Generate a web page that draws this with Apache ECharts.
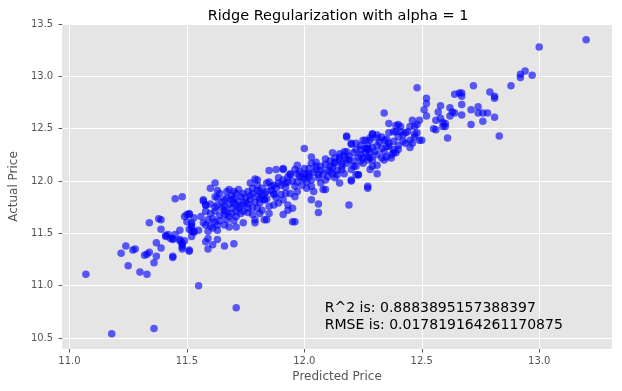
<!DOCTYPE html>
<html>
<head>
<meta charset="utf-8">
<script src="https://cdn.jsdelivr.net/npm/echarts@6/dist/echarts.min.js"></script>
<style>html,body{margin:0;padding:0;background:#fff}#c{width:622px;height:391px}</style>
</head>
<body>
<div id="c"></div>
<script>
const chartTitle = 'Ridge Regularization with alpha = 1';
const xAxisName = 'Predicted Price';
const yAxisName = 'Actual Price';
const xTicks = [11.0, 11.5, 12.0, 12.5, 13.0];
const yTicks = [10.5, 11.0, 11.5, 12.0, 12.5, 13.0, 13.5];
const statLines = ['R^2 is: 0.8883895157388397', 'RMSE is: 0.017819164261170875'];
const statAnchor = [12.1, 10.6];

// [predicted, actual]
const lowOutliers = [[11.07,11.11],[11.18,10.54],[11.36,10.59],[11.55,11.00],[11.71,10.79]];
const leftCluster = [
[11.24,11.38],[11.22,11.31],[11.25,11.19],[11.27,11.34],[11.28,11.35],[11.30,11.13],[11.33,11.11],[11.32,11.29],[11.33,11.30],[11.34,11.32],
[11.36,11.22],[11.37,11.28],[11.37,11.41],[11.39,11.36],[11.44,11.28],[11.44,11.27],[11.51,11.33],[11.41,11.48],[11.42,11.49],[11.45,11.49],
[11.44,11.45],[11.47,11.43],[11.48,11.41],[11.48,11.35],[11.47,11.53],[11.52,11.52],[11.53,11.51],[11.58,11.42],[11.45,11.83],[11.48,11.85],
[11.38,11.64],[11.39,11.63],[11.34,11.60],[11.39,11.54],[11.47,11.44],[11.49,11.43],[11.49,11.66],[11.50,11.68],[11.51,11.69],[11.53,11.65],
[11.50,11.61],[11.52,11.60],[11.52,11.56],[11.51,11.54],[11.53,11.52],[11.55,11.53],[11.48,11.39],[11.44,11.44],[11.48,11.37],[11.51,11.34],
[11.51,11.68],[11.52,11.58],[11.52,11.47],[11.41,11.47],[11.43,11.45]
];
const coreLow = [
[11.62,11.98],[11.60,11.93],[11.57,11.82],[11.58,11.77],[11.60,11.69],[11.62,11.85],[11.63,11.84],[11.63,11.77],[11.62,11.71],[11.61,11.64],
[11.59,11.63],[11.58,11.58],[11.59,11.52],[11.61,11.55],[11.63,11.58],[11.63,11.53],[11.59,11.45],[11.63,11.44],[11.61,11.39],[11.59,11.35],
[11.66,11.38],[11.70,11.40],[11.66,11.76],[11.66,11.68],[11.67,11.63],[11.68,11.56],[11.71,11.56],[11.68,11.92],[11.69,11.82],[11.71,11.77],
[11.71,11.71],[11.73,11.85],[11.74,11.88],[11.75,11.80],[11.74,11.71],[11.74,11.60],[11.76,11.74],[11.77,11.82],[11.78,11.68],[11.79,11.63],
[11.79,11.60],[11.77,11.98],[11.79,12.02],[11.80,11.96],[11.78,11.88],[11.80,11.85],[11.81,11.79],[11.81,11.69],[11.80,11.74],[11.83,11.82],
[11.83,11.88],[11.84,11.98],[11.85,12.10],[11.86,11.95],[11.85,11.76],[11.87,11.77],[11.83,11.63],[11.85,11.69],[11.87,11.88],[11.68,11.66],
[11.57,11.81],[11.58,11.77],[11.65,11.80],[11.67,11.84],[11.69,11.86],[11.70,11.79],[11.72,11.81],[11.73,11.76],[11.75,11.84],[11.76,11.78],
[11.78,11.75],[11.79,11.80],[11.82,11.86],[11.84,11.83],[11.64,11.67],[11.66,11.72],[11.69,11.74],[11.71,11.66],[11.62,11.75],[11.60,11.78],
[11.64,11.88],[11.70,11.90],[11.72,11.92],[11.76,11.90],[11.78,11.93],[11.82,11.93],
[11.66,11.82],[11.68,11.78],[11.70,11.83],[11.72,11.74],[11.74,11.78],[11.77,11.86],[11.71,11.88],[11.67,11.70],[11.65,11.74],[11.69,11.69],
[11.73,11.69],[11.76,11.70],[11.64,11.62],[11.66,11.58],[11.70,11.62],[11.62,11.61],[11.60,11.57],[11.57,11.60],[11.56,11.66],[11.58,11.71],
[11.63,11.91],[11.67,11.90],[11.81,11.90],[11.81,11.83]
];
const coreMid = [
[12.00,12.31],[12.03,12.23],[12.18,12.43],[12.20,12.35],[12.17,12.28],[12.18,12.21],[12.16,12.17],[12.24,12.34],[12.26,12.39],[12.29,12.45],
[12.27,12.31],[12.28,12.22],[12.28,12.11],[12.27,11.93],[12.23,12.06],[12.20,12.00],[12.19,11.77],[12.15,11.98],[12.13,12.17],[12.11,12.09],
[12.09,12.21],[12.09,12.01],[12.08,11.92],[12.09,11.92],[12.07,12.14],[12.06,12.06],[12.05,12.11],[12.03,12.01],[12.02,12.07],[12.01,11.99],
[12.03,11.95],[12.03,11.82],[12.06,11.78],[12.06,11.70],[12.01,12.06],[11.99,12.03],[11.97,11.99],[11.96,11.95],[11.97,12.07],[11.94,12.07],
[11.93,11.99],[11.92,11.98],[11.94,11.88],[11.96,11.85],[11.92,11.88],[11.91,11.82],[11.93,11.77],[11.95,11.74],[11.93,11.72],[11.91,11.68],
[11.89,11.79],[11.87,11.87],[11.87,11.96],[11.88,12.11],[11.91,12.11],[11.96,12.11],[11.85,11.99],[11.84,11.90],[11.83,11.82],[11.82,11.72],
[11.80,12.01],[11.80,11.91],[12.12,12.27],[12.15,12.23],[12.21,12.14],[12.24,12.19],[12.24,12.25],[12.27,12.30],[12.22,12.06],[12.17,12.07],
[12.14,12.06],[12.13,12.03],[12.10,12.04],[12.07,11.98],[12.04,11.90],[12.01,11.93],[11.95,11.61],[11.96,11.61],[11.84,11.63],[11.91,12.12],
[11.94,12.06],[11.86,11.91],[11.88,11.93],[11.90,11.96],[11.92,11.94],[11.95,12.00],[11.98,12.04],[12.00,12.02],[12.02,12.04],[12.04,12.08],
[12.06,12.03],[12.08,12.07],[12.10,12.10],[12.12,12.13],[12.14,12.10],[12.16,12.14],[12.18,12.17],[12.19,12.20],[12.21,12.19],[11.89,12.03],
[11.97,12.15],[12.03,12.17],[12.00,12.12],[12.05,12.18],[12.11,12.19],[12.13,12.22],[12.15,12.26],
[11.89,11.98],[11.91,12.01],[11.93,12.04],[11.98,12.09],[12.00,12.07],[12.02,12.12],[12.05,12.14],[12.07,12.10],[12.09,12.16],[12.11,12.14],
[12.13,12.18],[12.15,12.20],[12.17,12.24],[12.19,12.24],[12.16,12.11],[12.12,12.07],[11.99,11.96],[11.97,11.90],[11.90,11.87],[11.88,11.84]
];
const coreHigh = [
[12.34,12.65],[12.36,12.55],[12.49,12.58],[12.46,12.58],[12.45,12.52],[12.47,12.52],[12.44,12.47],[12.47,12.45],[12.41,12.52],[12.39,12.53],
[12.41,12.47],[12.42,12.44],[12.40,12.42],[12.38,12.47],[12.36,12.46],[12.45,12.39],[12.49,12.39],[12.43,12.36],[12.42,12.38],[12.38,12.38],
[12.35,12.40],[12.33,12.42],[12.31,12.44],[12.29,12.45],[12.28,12.41],[12.31,12.34],[12.35,12.33],[12.40,12.30],[12.38,12.27],[12.37,12.22],
[12.34,12.20],[12.31,12.15],[12.31,12.07],[12.27,12.34],[12.25,12.39],[12.26,12.31],[12.24,12.30],[12.22,12.36],[12.20,12.36],[12.18,12.42],
[12.21,12.27],[12.23,12.23],[12.27,12.23],[12.29,12.20],[12.25,12.17],[12.22,12.14],[12.20,12.11],[12.18,12.28],[12.30,12.28],[12.20,12.01],
[12.23,12.06],[12.27,11.95],[12.40,12.54],[12.39,12.47],[12.43,12.46],[12.48,12.54],[12.48,12.46],[12.47,12.42],[12.50,12.39],[12.46,12.36],
[12.45,12.32],[12.40,12.34],[12.38,12.30],[12.37,12.25],[12.39,12.27],[12.36,12.36],[12.34,12.39],[12.31,12.41],[12.28,12.39],[12.28,12.27],
[12.31,12.25],[12.33,12.22],[12.35,12.23],[12.27,12.20],[12.29,12.14],
[12.26,12.27],[12.29,12.32],[12.32,12.37],[12.33,12.31],[12.36,12.33],[12.34,12.28],[12.22,12.30],[12.25,12.22]
];
const upperRight = [
[12.48,12.89],[12.52,12.79],[12.52,12.74],[12.51,12.68],[12.52,12.62],[12.58,12.72],[12.57,12.66],[12.56,12.58],[12.58,12.60],[12.59,12.56],
[12.59,12.52],[12.55,12.50],[12.56,12.49],[12.61,12.41],[12.62,12.70],[12.63,12.66],[12.62,12.62],[12.64,12.83],[12.66,12.84],[12.67,12.84],
[12.67,12.81],[12.72,12.91],[12.74,12.65],[12.74,12.71],[12.71,12.68],[12.71,12.54],[12.67,12.63],[12.67,12.73],[12.64,12.65],[12.60,12.55],
[12.83,12.43],[12.60,12.52],[13.20,13.35],[13.00,13.28],[12.94,13.05],[12.92,13.02],[12.92,12.99],[12.97,13.01],[12.88,12.91],[12.79,12.85],
[12.81,12.81],[12.81,12.79],[12.78,12.65],[12.81,12.61],[12.76,12.57],[12.76,12.65]
];
const pricePairs = [].concat(lowOutliers, leftCluster, coreLow, coreMid, coreHigh, upperRight);

const chart = echarts.init(document.getElementById('c'), null, {renderer: 'canvas'});
const font = 'DejaVu Sans';
chart.setOption({
  animation: false,
  backgroundColor: '#ffffff',
  title: {
    text: chartTitle, left: 333, top: 4, textAlign: 'center',
    textStyle: {fontFamily: font, fontSize: 14.5, fontWeight: 'normal', color: '#000'}
  },
  grid: {left: 55, right: 10, top: 24, bottom: 42, show: true, backgroundColor: '#E5E5E5', borderWidth: 0},
  xAxis: {
    type: 'value', min: 10.969, max: 13.31,
    name: xAxisName, nameLocation: 'middle', nameGap: 21,
    nameTextStyle: {fontFamily: font, fontSize: 12, color: '#555'},
    axisLine: {show: false},
    axisTick: {show: true, length: 3.5, lineStyle: {color: '#555'}, customValues: xTicks},
    axisLabel: {customValues: xTicks, formatter: v => v.toFixed(1), fontFamily: font, fontSize: 10, color: '#555', margin: 7},
    splitLine: {show: true, lineStyle: {color: '#fff', width: 1}}
  },
  yAxis: {
    type: 'value', min: 10.395, max: 13.5,
    name: yAxisName, nameLocation: 'middle', nameGap: 36, nameRotate: 90,
    nameTextStyle: {fontFamily: font, fontSize: 12, color: '#555'},
    axisLine: {show: false},
    axisTick: {show: true, length: 3.5, lineStyle: {color: '#555'}, customValues: yTicks},
    axisLabel: {customValues: yTicks, formatter: v => v.toFixed(1), fontFamily: font, fontSize: 10, color: '#555', margin: 9},
    splitLine: {show: true, lineStyle: {color: '#fff', width: 1}}
  },
  series: [{
    type: 'scatter', data: pricePairs, symbolSize: 7.5,
    itemStyle: {color: 'rgba(0,0,255,0.78)'}, silent: true
  }]
});
const p = chart.convertToPixel({gridIndex: 0}, statAnchor);
chart.setOption({
  graphic: [{
    type: 'text', x: p[0] - 3, y: p[1] + 6, silent: true,
    style: {text: statLines.join('\n'), fontFamily: font, fontSize: 14, lineHeight: 17, fill: '#000', verticalAlign: 'bottom', align: 'left'}
  }]
});
</script>
</body>
</html>
